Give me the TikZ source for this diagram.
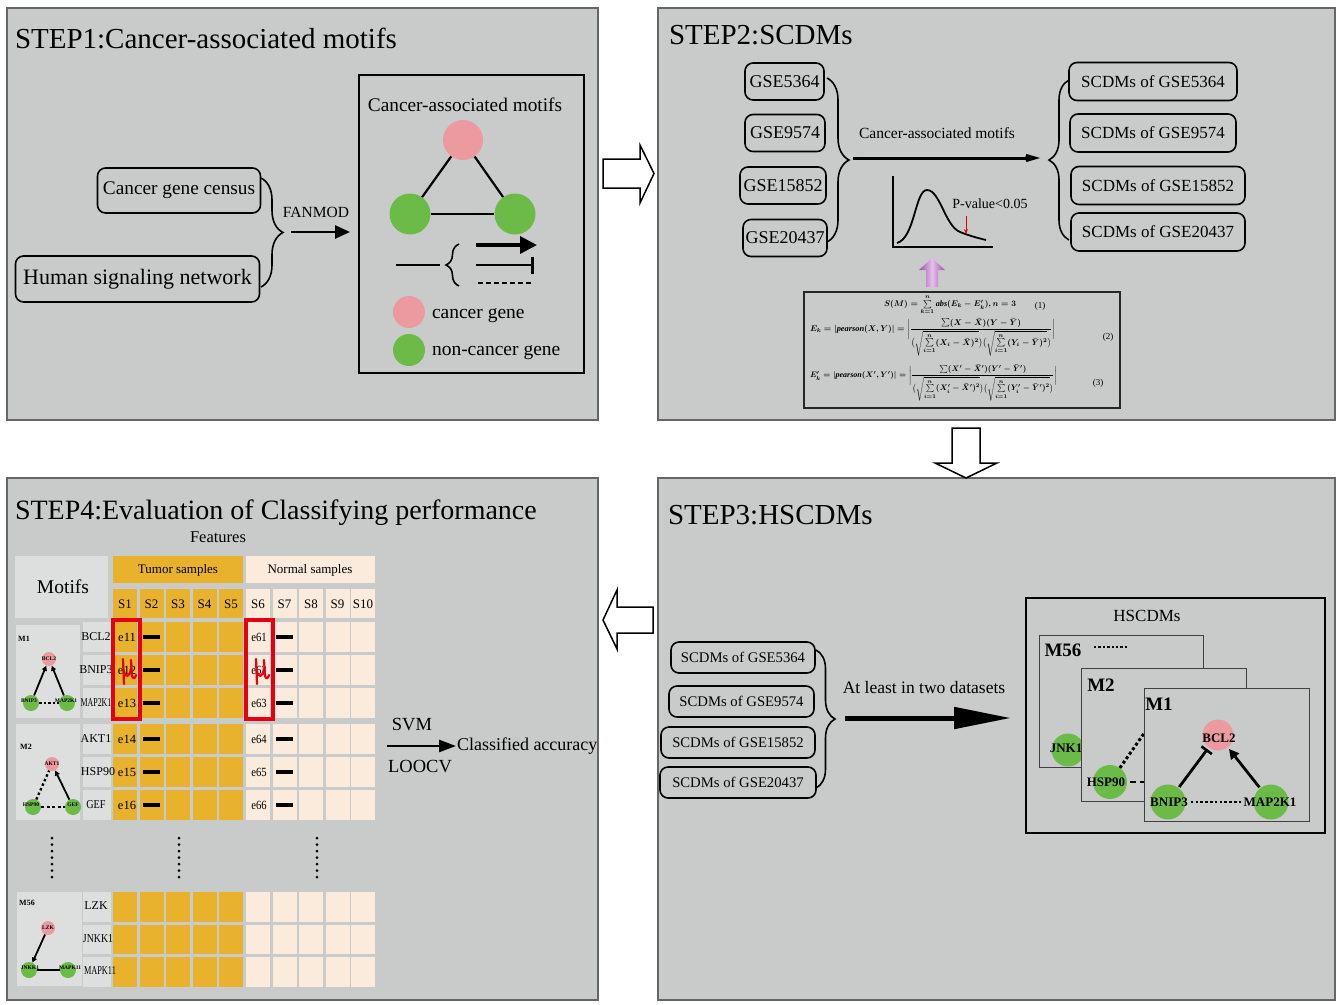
\documentclass[tikz,border=0pt]{standalone}
\usepackage{amsmath}
\usepackage{graphicx}
\usepackage{fontspec}
\setmainfont{Liberation Serif}
\usetikzlibrary{arrows.meta,decorations.pathreplacing}

\definecolor{panelgray}{HTML}{C9CBCB}
\definecolor{cellgray}{HTML}{DDDFDF}
\definecolor{goldc}{HTML}{E9B22D}
\definecolor{peachc}{HTML}{FBEBDC}
\definecolor{pinkc}{HTML}{EB9BA0}
\definecolor{greenc}{HTML}{6CBA48}
\definecolor{redc}{HTML}{E60012}
\definecolor{purpA}{HTML}{9A4FA8}
\definecolor{purpB}{HTML}{E6C2EC}

\newcommand{\fsz}[1]{\fontsize{#1}{#1}\selectfont}

\begin{document}
\begin{tikzpicture}[x=1pt,y=-1pt,
  panel/.style={draw=black!60,line width=1.2pt,fill=panelgray},
  txt/.style={inner sep=0pt,outer sep=0pt},
  title/.style={txt,anchor=base west,font=\fsz{29}},
  rbox/.style={draw=black,line width=1.6pt,rounded corners=8pt,inner sep=0pt},
  curly/.style={decorate,decoration={brace,amplitude=#1},line width=1.6pt},
  pdot/.style={circle,fill=pinkc,inner sep=0pt,minimum size=#1},
  gdot/.style={circle,fill=greenc,inner sep=0pt,minimum size=#1},
  frame/.style={draw=black!75,line width=1pt,fill=panelgray,inner sep=0pt},
  blab/.style={txt,font=\bfseries\fsz{13}},
  tlab/.style={txt,font=\bfseries\fsz{5.5}},
  cellt/.style={txt,font=\fsz{13}},
  gene/.style={txt,font=\fsz{12}},
  bigout/.style={draw=black,line width=1.5pt,fill=white,line join=miter},
]
\useasboundingbox (0,0) rectangle (1338,1004);
\fill[white] (0,0) rectangle (1338,1004);

% ---------- panels ----------
\draw[panel] (7,8) rectangle (598,420);
\draw[panel] (658,8) rectangle (1335,420);
\draw[panel] (658,478) rectangle (1335,1000);
\draw[panel] (7,478) rectangle (598,1000);

% ---------- hollow arrows between the steps ----------
\draw[bigout] (603,159) -- (640,159) -- (640,145) -- (654,173.5) -- (640,203) -- (640,188) -- (603,188) -- cycle;
\draw[bigout] (952,428) -- (980,428) -- (980,463) -- (997,463) -- (966,478) -- (935,463) -- (952,463) -- cycle;
\draw[bigout] (603,620) -- (617,590) -- (617,607) -- (653,607) -- (653,633) -- (617,633) -- (617,649) -- cycle;

% =============== STEP 1 ===============
\node[title] (t1) at (15,48) {STEP1:Cancer-associated motifs};
\node[rbox,minimum width=163pt,minimum height=45pt,font=\fsz{19.3}] (cgc) at (179,190.5) {Cancer gene census};
\node[rbox,minimum width=244pt,minimum height=46pt,font=\fsz{22}] (hsn) at (137.5,279) {Human signaling network};
\coordinate (br1a) at (261,178);
\coordinate (br1b) at (261,287);
\draw[curly=22pt] (br1a) -- (br1b);
\coordinate (fan0) at (291,232);
\coordinate (fan1) at (350,232);
\draw[line width=2.5pt,-{Triangle[length=15pt,width=13pt]}] (fan0) -- (fan1);
\node[txt,font=\fsz{15.5}] (fan) at (316,212) {FANMOD};

\node[draw=black,line width=1.5pt,minimum width=225pt,minimum height=298pt,inner sep=0pt] (mbox) at (471.5,224) {};
\node[txt,font=\fsz{19.3}] (mtitle) at (465,105) {Cancer-associated motifs};
\node[pdot=40pt] (ca) at (463,140) {};
\node[gdot=41pt] (cb) at (410,214) {};
\node[gdot=41pt] (cc) at (515,214) {};
\draw[line width=2.2pt] (ca) -- (cb);
\draw[line width=2.2pt] (ca) -- (cc);
\draw[line width=2.2pt] (cb) -- (cc);

\coordinate (lgA) at (396,265);
\coordinate (lgB) at (440,265);
\draw[line width=1.8pt] (lgA) -- (lgB);
\coordinate (lbr0) at (459,286);
\coordinate (lbr1) at (459,244);
\draw[curly=13pt] (lbr0) -- (lbr1);
\coordinate (la0) at (476,245);
\coordinate (la1) at (537,245);
\draw[line width=3.2pt,-{Triangle[length=17pt,width=17pt]}] (la0) -- (la1);
\coordinate (lt0) at (476,265);
\coordinate (lt1) at (534,265);
\draw[line width=2.4pt,-{Bar[width=17pt,line width=2.6pt]}] (lt0) -- (lt1);
\coordinate (ld0) at (478,283);
\coordinate (ld1) at (531,283);
\draw[line width=2.4pt,dash pattern=on 5pt off 3pt] (ld0) -- (ld1);
\node[pdot=32pt] (lp) at (409,312) {};
\node[txt,anchor=base west,font=\fsz{19.5}] (lpt) at (432,318) {cancer gene};
\node[gdot=32pt] (lg) at (409,350) {};
\node[txt,anchor=base west,font=\fsz{19.5}] (lgt) at (432,355) {non-cancer gene};

% =============== STEP 2 ===============
\node[title] (t2) at (669,44) {STEP2:SCDMs};
\begin{scope}[every node/.style={rbox,minimum height=37pt,font=\fsz{18}}]
  \node[minimum width=79pt] (g1) at (784.5,81.5) {GSE5364};
  \node[minimum width=80pt] (g2) at (785,133) {GSE9574};
  \node[minimum width=86pt] (g3) at (783,185.5) {GSE15852};
  \node[minimum width=84pt] (g4) at (785,238) {GSE20437};
\end{scope}
\coordinate (br2a) at (827,78);
\coordinate (br2b) at (827,242);
\draw[curly=22pt] (br2a) -- (br2b);
\coordinate (ar2a) at (853,158);
\coordinate (ar2b) at (1040,158);
\draw[line width=3pt,-{Stealth[length=34pt,width=20pt,inset=22pt]}] (ar2a) -- (ar2b);
\node[txt,font=\fsz{15.5}] (cam) at (937,133) {Cancer-associated motifs};
\coordinate (br3a) at (1069,240);
\coordinate (br3b) at (1069,80);
\draw[curly=20pt] (br3a) -- (br3b);
\begin{scope}[every node/.style={rbox,minimum height=38pt,font=\fsz{17}}]
  \node[minimum width=168pt] (s1) at (1153,81.5) {SCDMs of GSE5364};
  \node[minimum width=166pt] (s2) at (1153,133) {SCDMs of GSE9574};
  \node[minimum width=174pt] (s3) at (1158,185.5) {SCDMs of GSE15852};
  \node[minimum width=174pt] (s4) at (1158,232) {SCDMs of GSE20437};
\end{scope}

% distribution sketch
\coordinate (axT) at (893,176);
\coordinate (ax0) at (893,247);
\coordinate (axR) at (993,247);
\draw[line width=1.5pt] (axT) -- (ax0) -- (axR);
\draw[line width=1.8pt] (897,243) .. controls (915,238) and (915,190) .. (927,190)
  .. controls (940,190) and (945,226) .. (960,232)
  .. controls (970,236) and (978,238) .. (986,240);
\coordinate (pv0) at (966,216);
\coordinate (pv1) at (966,234);
\draw[redc,line width=0.8pt,-{Stealth[length=5pt,width=4pt]}] (pv0) -- (pv1);
\node[txt,font=\fsz{14}] (pv) at (990,204) {P-value<0.05};

% purple arrow from the score box
\shade[left color=purpA,right color=purpA,middle color=purpB]
  (932,258) -- (945,270) -- (938,270) -- (938,287) -- (926,287) -- (926,270) -- (919,270) -- cycle;

% score formulas
\node[draw=black!85,line width=2.6pt,minimum width=316pt,minimum height=116pt,inner sep=0pt] (fbox) at (962,350) {};
\node[txt] (f1) at (950,305) {\resizebox{132pt}{!}{\boldmath$S(M)=\sum\limits_{k=1}^{n}\mathit{abs}(E_k-E_k'),n=3$}};
\node[txt,font=\fsz{9}] (n1) at (1040,306) {(1)};
\node[txt] (f2) at (932.5,337) {\resizebox{245pt}{!}{\boldmath$E_k=\lvert\mathit{pearson}(X,Y)\rvert=\biggl\lvert\dfrac{\sum(X-\bar X)(Y-\bar Y)}{\bigl(\sqrt{\textstyle\sum\limits_{i=1}^{n}(X_i-\bar X)^2}\bigr)\bigl(\sqrt{\textstyle\sum\limits_{i=1}^{n}(Y_i-\bar Y)^2}\bigr)}\biggr\rvert$}};
\node[txt,font=\fsz{9}] (n2) at (1108,337) {(2)};
\node[txt] (f3) at (933.5,383) {\resizebox{247pt}{!}{\boldmath$E_k'=\lvert\mathit{pearson}(X',Y')\rvert=\biggl\lvert\dfrac{\sum(X'-\bar X')(Y'-\bar Y')}{\bigl(\sqrt{\textstyle\sum\limits_{i=1}^{n}(X_i'-\bar X')^2}\bigr)\bigl(\sqrt{\textstyle\sum\limits_{i=1}^{n}(Y_i'-\bar Y')^2}\bigr)}\biggr\rvert$}};
\node[txt,font=\fsz{9}] (n3) at (1098,383) {(3)};

% =============== STEP 3 ===============
\node[title] (t3) at (668,524) {STEP3:HSCDMs};
\begin{scope}[every node/.style={rbox,minimum height=31pt,font=\fsz{14.7}}]
  \node[minimum width=144pt] (h1) at (743,657.5) {SCDMs of GSE5364};
  \node[minimum width=145pt] (h2) at (741.5,701.5) {SCDMs of GSE9574};
  \node[minimum width=154pt] (h3) at (738,742.5) {SCDMs of GSE15852};
  \node[minimum width=156pt] (h4) at (738,782.5) {SCDMs of GSE20437};
\end{scope}
\coordinate (br4a) at (816,650);
\coordinate (br4b) at (816,788);
\draw[curly=19pt] (br4a) -- (br4b);
\node[txt,font=\fsz{17.5}] (alt) at (924,688) {At least in two datasets};
\coordinate (ar4a) at (845,718);
\coordinate (ar4b) at (1011,718);
\draw[line width=5pt,-{Triangle[length=57pt,width=21pt]}] (ar4a) -- (ar4b);

\node[draw=black,line width=2pt,minimum width=299pt,minimum height=235pt,inner sep=0pt] (hbox) at (1175.5,715.5) {};
\node[txt,font=\fsz{17}] (htitle) at (1147,616) {HSCDMs};

% motif M56 (back)
\node[frame,minimum width=164pt,minimum height=132pt] (fr56) at (1121,701.5) {};
\node[blab,font=\bfseries\fsz{19}] (m56) at (1063,650) {M56};
\coordinate (d56a) at (1094,647);
\coordinate (d56b) at (1127,647);
\draw[line width=2.6pt,dash pattern=on 2.4pt off 2pt] (d56a) -- (d56b);
\node[gdot=33pt] (jnk) at (1068,750) {};
\node[blab] (jnkL) at (1066,748) {JNK1};

% motif M2 (middle)
\node[frame,minimum width=165pt,minimum height=133pt] (fr2) at (1163.5,735) {};
\node[blab,font=\bfseries\fsz{19}] (m2) at (1101,685) {M2};
\node[pdot=30pt] (akt) at (1159,712) {};
\node[gdot=34pt] (hsp) at (1110,782) {};
\draw[line width=3pt,dash pattern=on 3pt off 2.5pt] (hsp) -- (akt);
\coordinate (hd0) at (1130,782);
\coordinate (hd1) at (1165,782);
\draw[line width=2.5pt,dash pattern=on 6pt off 4pt] (hd0) -- (hd1);
\node[blab] (hspL) at (1106,782) {HSP90};

% motif M1 (front)
\node[frame,minimum width=165pt,minimum height=133pt] (fr1) at (1226.5,754.5) {};
\node[blab,font=\bfseries\fsz{19}] (m1) at (1159,704) {M1};
\node[pdot=31pt] (bcl) at (1218,735) {};
\node[gdot=35pt] (bnip) at (1168,802) {};
\node[gdot=35pt] (mapk) at (1271,802) {};
\draw[line width=2.8pt,-{Bar[width=13pt,line width=2.6pt]},shorten <=1pt,shorten >=2pt] (bnip) -- (bcl);
\draw[line width=2.8pt,-{Triangle[length=10pt,width=10pt]},shorten <=1pt,shorten >=2pt] (mapk) -- (bcl);
\node[blab] (bclL) at (1219,738) {BCL2};
\node[blab] (bnipL) at (1169,802) {BNIP3};
\node[blab] (mapkL) at (1270,802) {MAP2K1};
\draw[line width=2.6pt,dash pattern=on 2.6pt off 2.2pt,shorten <=3pt,shorten >=3pt] (bnipL.east) -- (mapkL.west);

% =============== STEP 4 ===============
\node[title,font=\fsz{28}] (t4) at (15,519) {STEP4:Evaluation of Classifying performance};
\node[txt,font=\fsz{16.5}] (feat) at (218,537) {Features};

% header cells
\fill[cellgray] (15,556) rectangle (108,618);
\fill[goldc] (113,556) rectangle (243,583);
\fill[peachc] (246,556) rectangle (375,583);
\node[txt,font=\fsz{19.5}] (motifs) at (63,587) {Motifs};
\node[txt,font=\fsz{13}] (tum) at (178,570) {Tumor samples};
\node[txt,font=\fsz{13}] (nor) at (310,570) {Normal samples};

% sample columns
\foreach \x [count=\i] in {113,139.5,166,192.5,219} {
  \fill[goldc] (\x,589) rectangle ++(24,29);
  \foreach \y in {622,655,688,724,757,790,892,924.5,957} {\fill[goldc] (\x,\y) rectangle ++(24,29.5);}
  \node[cellt] (sh\i) at (\x+12,604) {S\i};
}
\foreach \x [count=\i from 6] in {246,272.5,299,325.5,351} {
  \fill[peachc] (\x,589) rectangle ++(24,29);
  \foreach \y in {622,655,688,724,757,790,892,924.5,957} {\fill[peachc] (\x,\y) rectangle ++(24,29.5);}
  \node[cellt] (sh\i) at (\x+12,604) {S\i};
}
% gene and motif cells
\foreach \y in {622,655,688,724,757,790,892,924.5,957} {\fill[cellgray] (83,\y) rectangle ++(28,29.5);}
\fill[cellgray] (16,625) rectangle (80,718);
\fill[cellgray] (16,724) rectangle (80,820);
\fill[cellgray] (17,892) rectangle (82,986);

% gene names
\node[gene] (gn1) at (96,637) {BCL2};
\node[gene] (gn2) at (96,670) {BNIP3};
\node[gene] (gn3) at (96,703) {\scalebox{0.66}[1]{MAP2K1}};
\node[gene] (gn4) at (96,739) {AKT1};
\node[gene] (gn5) at (98,772) {HSP90};
\node[gene] (gn6) at (96,805) {\scalebox{0.85}[1]{GEF}};
\node[gene] (gn7) at (96,906) {LZK};
\node[gene] (gn8) at (98,939) {\scalebox{0.82}[1]{JNKK1}};
\node[gene] (gn9) at (100,971) {\scalebox{0.69}[1]{MAPK11}};

% feature values
\foreach \yc [count=\i] in {637,670,703,739,772,805} {
  \node[cellt,font=\fsz{12.5}] (et\i) at (127,\yc) {e1\i};
  \node[cellt,font=\fsz{12.5}] (en\i) at (259,\yc) {\scalebox{0.85}[1]{e6\i}};
  \draw[line width=3.5pt] (143,\yc) -- (160,\yc);
  \draw[line width=3.5pt] (276,\yc) -- (293,\yc);
}
\draw[redc,line width=3.5pt] (113,620) rectangle (140,719);
\draw[redc,line width=3.5pt] (246,620) rectangle (273,719);
\foreach \dx in {0,133} {
  \draw[redc,line width=2.2pt,line cap=round]
    (123+\dx,659) -- (124+\dx,684)
    (124+\dx,671) .. controls (125+\dx,678) and (130+\dx,678) .. (131+\dx,668)
    (131+\dx,660) -- (132+\dx,676) .. controls (133+\dx,679) and (135+\dx,679) .. (136+\dx,675);
}

% continuation dots
\foreach \x in {52,179,317} {
  \foreach \k in {0,...,6} {\fill (\x,838+6.5*\k) circle (1.5pt);}
}

% motif thumbnails
\node[txt,font=\bfseries\fsz{8}] (tm1) at (24,639) {M1};
\node[pdot=14pt] (u1a) at (49,659) {};
\node[gdot=16pt] (u1b) at (31,703) {};
\node[gdot=16pt] (u1c) at (67,703) {};
\draw[line width=1.8pt,-{Triangle[length=5pt,width=5pt]}] (u1b) -- (u1a);
\draw[line width=1.8pt,-{Triangle[length=5pt,width=5pt]}] (u1c) -- (u1a);
\draw[line width=2.2pt,dash pattern=on 2.5pt off 2pt] (u1b) -- (u1c);
\node[tlab] (u1al) at (49,659) {BCL2};
\node[tlab] (u1bl) at (29,701) {BNIP3};
\node[tlab] (u1cl) at (66,701) {MAP2K1};

\node[txt,font=\bfseries\fsz{8}] (tm2) at (26,747) {M2};
\node[pdot=14pt] (u2a) at (52,764) {};
\node[gdot=16pt] (u2b) at (33,807) {};
\node[gdot=16pt] (u2c) at (73,807) {};
\draw[line width=2.3pt,dash pattern=on 2.5pt off 2.5pt] (u2b) -- (u2a);
\draw[line width=1.8pt,-{Triangle[length=5pt,width=5pt]}] (u2c) -- (u2a);
\draw[line width=2.2pt,dash pattern=on 3pt off 2.5pt] (u2b) -- (u2c);
\node[tlab] (u2al) at (52,764) {AKT1};
\node[tlab] (u2bl) at (31,805) {HSP90};
\node[tlab] (u2cl) at (73,805) {GEF};

\node[txt,font=\bfseries\fsz{8}] (tm56) at (27,903) {M56};
\node[pdot=14pt] (u3a) at (48,928) {};
\node[gdot=16pt] (u3b) at (29,970) {};
\node[gdot=16pt] (u3c) at (68,970) {};
\draw[line width=1.8pt,-{Triangle[length=5pt,width=5pt]}] (u3a) -- (u3b);
\draw[line width=2pt] (u3b) -- (u3c);
\node[tlab] (u3al) at (48,928) {LZK};
\node[tlab] (u3bl) at (30,968) {JNKK1};
\node[tlab] (u3cl) at (70,968) {MAPK11};

% classifier
\coordinate (sv0) at (387,746);
\coordinate (sv1) at (456,746);
\draw[line width=2.5pt,-{Triangle[length=17pt,width=12pt]}] (sv0) -- (sv1);
\node[txt,font=\fsz{18.5}] (svm) at (412,725) {SVM};
\node[txt,font=\fsz{18.5}] (loo) at (420,767) {LOOCV};
\node[txt,anchor=west,font=\fsz{18}] (acc) at (457,746) {Classified accuracy};

\end{tikzpicture}
\end{document}
